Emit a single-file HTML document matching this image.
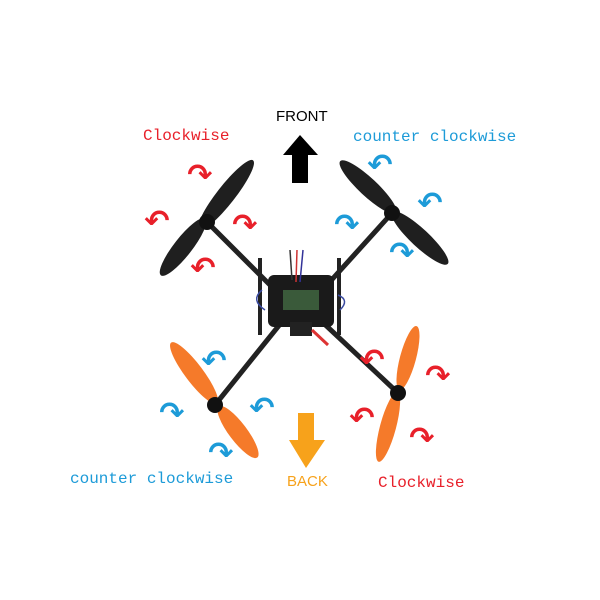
<!DOCTYPE html>
<html><head><style>
body{margin:0;background:#fff;}
svg{display:block;}
</style></head><body>
<svg width="600" height="600" viewBox="0 0 600 600" xmlns="http://www.w3.org/2000/svg">
<rect width="600" height="600" fill="#fff"/>
<!-- arms -->
<g stroke="#222" stroke-width="5" stroke-linecap="round">
<line x1="207" y1="222" x2="285" y2="300"/>
<line x1="392" y1="213" x2="318" y2="295"/>
<line x1="215" y1="405" x2="285" y2="318"/>
<line x1="398" y1="393" x2="318" y2="318"/>
</g>
<g stroke="#222" stroke-width="4">
<line x1="260" y1="258" x2="260" y2="335"/>
<line x1="339" y1="258" x2="339" y2="335"/>
</g>
<rect x="268" y="275" width="66" height="52" rx="6" fill="#1a1a1a"/>
<rect x="283" y="290" width="36" height="20" fill="#3a5a3a"/>
<rect x="290" y="322" width="22" height="14" fill="#222"/>
<g stroke-width="1.5" fill="none">
<path d="M290 250 L292 280" stroke="#333"/><path d="M297 250 L296 282" stroke="#c33"/><path d="M303 250 L300 282" stroke="#339"/>
<path d="M262 290 Q250 300 265 310" stroke="#3a4aa0"/><path d="M338 295 Q350 300 340 310" stroke="#3a4aa0"/>
<path d="M312 330 L328 345" stroke="#d33" stroke-width="3"/>
</g>
<g fill="#1f1f1f">
<ellipse cx="226" cy="195" rx="44" ry="9" transform="rotate(-52 226 195)"/>
<ellipse cx="183" cy="247" rx="36" ry="9" transform="rotate(-52 183 247)"/>
<ellipse cx="368" cy="187" rx="38" ry="9" transform="rotate(43 368 187)"/>
<ellipse cx="420" cy="238" rx="38" ry="9" transform="rotate(43 420 238)"/>
</g>
<g fill="#f57a2a">
<ellipse cx="194" cy="373" rx="38" ry="9" transform="rotate(53 194 373)"/>
<ellipse cx="238" cy="432" rx="32" ry="9" transform="rotate(53 238 432)"/>
<ellipse cx="408" cy="358" rx="33" ry="8" transform="rotate(-75 408 358)"/>
<ellipse cx="388" cy="427" rx="36" ry="8" transform="rotate(-75 388 427)"/>
</g>
<g fill="#111">
<circle cx="207" cy="222" r="8"/><circle cx="392" cy="213" r="8"/>
<circle cx="215" cy="405" r="8"/><circle cx="398" cy="393" r="8"/>
</g>
<polygon points="300,135 318,155 308,155 308,183 292,183 292,155 283,155" fill="#000"/>
<polygon points="298,413 314,413 314,440 325,440 306,468 289,440 298,440" fill="#f7a21b"/>
<g font-family="DejaVu Sans, sans-serif" font-size="30" font-weight="bold" text-anchor="middle">
<g fill="#e8202a">
<text x="200" y="185">↷</text><text x="157" y="231">↶</text><text x="245" y="235">↷</text><text x="203" y="278">↶</text>
<text x="372" y="370">↶</text><text x="438" y="386">↷</text><text x="362" y="428">↶</text><text x="422" y="448">↷</text>
</g>
<g fill="#1d9bd8">
<text x="380" y="175">↶</text><text x="430" y="213">↶</text><text x="347" y="235">↷</text><text x="402" y="263">↷</text>
<text x="214" y="371">↶</text><text x="172" y="423">↷</text><text x="262" y="418">↶</text><text x="221" y="463">↷</text>
</g>
</g>
<g font-family="Liberation Mono, monospace" font-size="16">
<text x="143" y="140" fill="#e8202a">Clockwise</text>
<text x="353" y="141" fill="#1d9bd8">counter clockwise</text>
<text x="70" y="483" fill="#1d9bd8">counter clockwise</text>
<text x="378" y="487" fill="#e8202a">Clockwise</text>
</g>
<g font-family="Liberation Sans, sans-serif" font-size="15">
<text x="276" y="121" fill="#000">FRONT</text>
<text x="287" y="486" fill="#f7a21b">BACK</text>
</g>
</svg>
</body></html>
